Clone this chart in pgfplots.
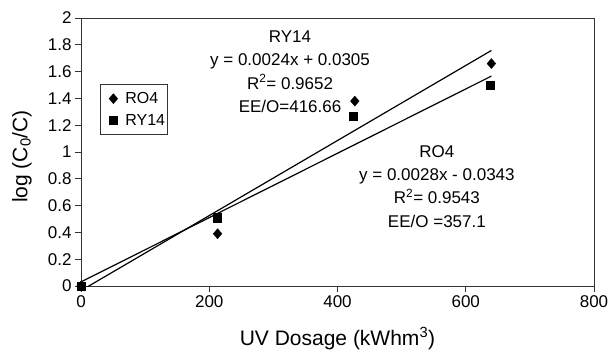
\documentclass[border=0pt]{standalone}
\usepackage{fontspec}
\setmainfont{Liberation Sans}
\usepackage{pgfplots}
\pgfplotsset{compat=1.18}
\begin{document}
\begin{tikzpicture}
\begin{axis}[
  name=ax,
  scale only axis,
  width=513pt, height=268pt,
  xmin=0, xmax=800, ymin=0, ymax=2,
  xtick={0,200,400,600,800},
  ytick={0,0.2,0.4,0.6,0.8,1,1.2,1.4,1.6,1.8,2},
  tick align=outside,
  xtick pos=bottom, ytick pos=left,
  major tick length=6pt,
  axis line style={black!80, line width=1pt},
  tick style={black!80, line width=1pt},
  /pgf/number format/assume math mode=true,
  /pgf/number format/fixed,
  ticklabel style={font=\fontsize{17}{19}\selectfont},
  xlabel={UV Dosage (kWhm\textsuperscript{3})},
  ylabel={log (C\textsubscript{0}/C)},
  label style={font=\fontsize{21}{24}\selectfont},
  xlabel style={at={(axis description cs:0.5,0)}, anchor=base, yshift=-59pt},
  ylabel style={at={(axis description cs:-0.1043,0.4832)}, anchor=base},
  legend style={at={(axis description cs:0.037,0.754)}, anchor=north west,
    draw=black!80, line width=0.8pt, font=\fontsize{16}{19}\selectfont,
    inner xsep=0pt, inner ysep=6pt, row sep=5pt},
  legend cell align=left,
  legend image code/.code={\path[draw=none,fill=none] (-13pt,-7pt) rectangle (10pt,7pt); \draw[#1] plot coordinates {(0pt,0pt)};},
]
\addplot[black, line width=1.2pt, forget plot] coordinates {(0,-0.0343) (640,1.7577)};
\addplot[black, line width=1.2pt, forget plot] coordinates {(0,0.0305) (640,1.5665)};
\addplot[only marks, mark=diamond*, mark size=5pt, mark options={black, fill=black, xscale=1.15, line width=0.4pt}]
  coordinates {(0,0) (213,0.39) (427,1.38) (640,1.66)};
\addlegendentry{RO4}
\addplot[only marks, mark=square*, mark size=4.1pt, mark options={black, fill=black, line width=0.4pt}]
  coordinates {(0,0) (212,0.51) (425,1.27) (638,1.50)};
\addlegendentry{RY14}
\begin{scope}[every node/.style={anchor=base, font=\fontsize{17}{20}\selectfont, inner sep=0pt}]
\node at (axis cs:326,1.818) {RY14};
\node at (axis cs:326,1.644) {y = 0.0024x + 0.0305};
\node at (axis cs:326,1.470) {R\textsuperscript{2}= 0.9652};
\node at (axis cs:326,1.296) {EE/O=416.66};
\node at (axis cs:555,0.960) {RO4};
\node at (axis cs:555,0.786) {y = 0.0028x - 0.0343};
\node at (axis cs:555,0.612) {R\textsuperscript{2}= 0.9543};
\node at (axis cs:555,0.438) {EE/O =357.1};
\end{scope}
\end{axis}
\pgfresetboundingbox
\path[use as bounding box] ([xshift=-81pt,yshift=-65pt]ax.south west) rectangle ([xshift=16pt,yshift=18pt]ax.north east);
\end{tikzpicture}
\end{document}
